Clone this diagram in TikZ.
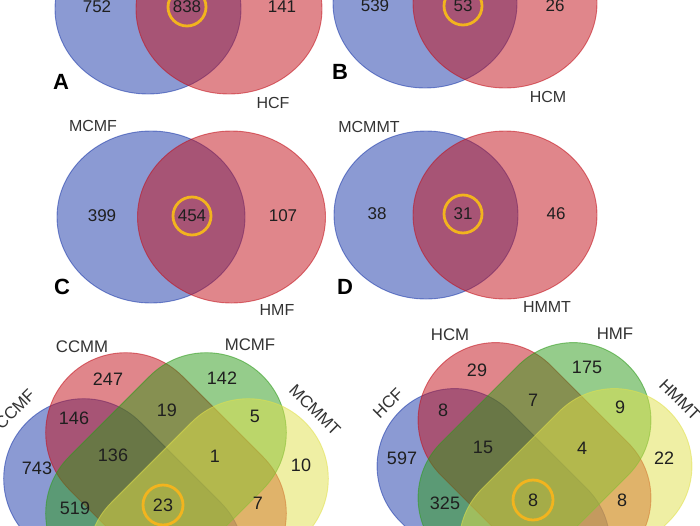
\documentclass[tikz,border=0pt]{standalone}
\usepackage{fontspec}
\setmainfont{Liberation Sans}
\definecolor{vblue}{RGB}{25,55,169}
\definecolor{vred}{RGB}{195,15,25}
\definecolor{vgreen}{RGB}{45,155,25}
\definecolor{vyellow}{RGB}{225,225,75}
\definecolor{hl}{RGB}{242,180,30}
\tikzset{
  vset/.style={fill=#1, draw=#1, fill opacity=0.5, draw opacity=0.55, line width=0.45pt},
  num/.style={font=\fontsize{9}{10}\selectfont, text=black!88, inner sep=1pt},
  snum/.style={font=\fontsize{8.5}{10}\selectfont, text=black!88, inner sep=1pt},
  lab/.style={font=\fontsize{8}{9}\selectfont, text=black!80, inner sep=1pt},
  qlab/.style={font=\fontsize{8.4}{9}\selectfont, text=black!80, inner sep=0pt},
  panel/.style={font=\fontsize{11}{12}\selectfont\bfseries, inner sep=1pt},
  hlc/.style={draw=hl, line width=1.4pt}
}
\begin{document}
\begin{tikzpicture}[x=0.5pt, y=-0.5pt]
\useasboundingbox (0,0) rectangle (700,525);
\clip (0,0) rectangle (700,525);
\fill[white] (0,0) rectangle (700,525);

% ---------- Panel A ----------
\path[vset=vblue] (148,9) ellipse[x radius=93, y radius=85];
\path[vset=vred] (229,9) ellipse[x radius=93, y radius=85];
\node[snum] (a1) at (97,7) {752};
\node[snum] (a2) at (187,7) {838};
\node[snum] (a3) at (282,7) {141};
\draw[hlc] (a2) circle[radius=19];
\node[panel] (pa) at (61,82) {A};
\node[lab] (la) at (273,103) {HCF};

% ---------- Panel B ----------
\path[vset=vblue] (425,3) ellipse[x radius=92, y radius=85];
\path[vset=vred] (505,3) ellipse[x radius=92, y radius=85];
\node[snum] (b1) at (375,6) {539};
\node[snum] (b2) at (463,6) {53};
\node[snum] (b3) at (555,6) {26};
\draw[hlc] (b2) circle[radius=19];
\node[panel] (pb) at (340,72) {B};
\node[lab] (lb) at (548,97) {HCM};

% ---------- Panel C ----------
\path[vset=vblue] (151,217) ellipse[x radius=94, y radius=86];
\path[vset=vred] (231.5,217) ellipse[x radius=94, y radius=86];
\node[snum] (c1) at (102,216) {399};
\node[snum] (c2) at (192,216) {454};
\node[snum] (c3) at (283,216) {107};
\draw[hlc] (c2) circle[radius=19];
\node[panel] (pc) at (62,287) {C};
\node[lab] (lc1) at (93,126) {MCMF};
\node[lab] (lc2) at (277,310) {HMF};

% ---------- Panel D ----------
\path[vset=vblue] (426,215) ellipse[x radius=92, y radius=84];
\path[vset=vred] (505,215) ellipse[x radius=92, y radius=84];
\node[snum] (d1) at (377,214) {38};
\node[snum] (d2) at (463,214) {31};
\node[snum] (d3) at (556,214) {46};
\draw[hlc] (d2) circle[radius=19];
\node[panel] (pd) at (345,287) {D};
\node[lab] (ld1) at (369,127) {MCMMT};
\node[lab] (ld2) at (547,307) {HMMT};

% ---------- Bottom left four-set ----------
\begin{scope}[shift={(124,519)}, rotate=-45]
  \path[vset=vblue, rounded corners=40pt] (-137,-80) rectangle (137,80);
\end{scope}
\begin{scope}[shift={(166,473)}, rotate=-45]
  \path[vset=vred, rounded corners=40pt] (-137,-80) rectangle (137,80);
\end{scope}
\begin{scope}[shift={(166,473)}, rotate=45]
  \path[vset=vgreen, rounded corners=40pt] (-137,-80) rectangle (137,80);
\end{scope}
\begin{scope}[shift={(208,519)}, rotate=45]
  \path[vset=vyellow, rounded corners=40pt] (-137,-80) rectangle (137,80);
\end{scope}
\node[qlab, rotate=45] (le1) at (15,409) {CCMF};
\node[qlab] (le2) at (82,347) {CCMM};
\node[qlab] (le3) at (250,345) {MCMF};
\node[qlab, rotate=-45] (le4) at (315,410) {MCMMT};
\node[num] (e1) at (37,468) {743};
\node[num] (e2) at (108,379) {247};
\node[num] (e3) at (222,378) {142};
\node[num] (e4) at (301,465) {10};
\node[num] (e5) at (74,418) {146};
\node[num] (e6) at (167,410) {19};
\node[num] (e7) at (255,416) {5};
\node[num] (e8) at (113,455) {136};
\node[num] (e9) at (215,456) {1};
\node[num] (e10) at (75,508) {519};
\node[num] (e11) at (163,505) {23};
\node[num] (e12) at (258,503) {7};
\draw[hlc] (e11) circle[radius=20];

% ---------- Bottom right four-set ----------
\begin{scope}[shift={(493.5,505)}, rotate=-45]
  \path[vset=vblue, rounded corners=38.8pt] (-132.5,-77.6) rectangle (132.5,77.6);
\end{scope}
\begin{scope}[shift={(534.5,459)}, rotate=-45]
  \path[vset=vred, rounded corners=38.8pt] (-132.5,-77.6) rectangle (132.5,77.6);
\end{scope}
\begin{scope}[shift={(534.5,459)}, rotate=45]
  \path[vset=vgreen, rounded corners=38.8pt] (-132.5,-77.6) rectangle (132.5,77.6);
\end{scope}
\begin{scope}[shift={(575.5,505)}, rotate=45]
  \path[vset=vyellow, rounded corners=38.8pt] (-132.5,-77.6) rectangle (132.5,77.6);
\end{scope}
\node[qlab, rotate=45] (lf1) at (388,403) {HCF};
\node[qlab] (lf2) at (450,335) {HCM};
\node[qlab] (lf3) at (615,334) {HMF};
\node[qlab, rotate=-45] (lf4) at (680,400) {HMMT};
\node[num] (f1) at (402,458) {597};
\node[num] (f2) at (477,370) {29};
\node[num] (f3) at (587,367) {175};
\node[num] (f4) at (664,458) {22};
\node[num] (f5) at (443,410) {8};
\node[num] (f6) at (533,400) {7};
\node[num] (f7) at (620,407) {9};
\node[num] (f8) at (483,447) {15};
\node[num] (f9) at (582,448) {4};
\node[num] (f10) at (445,503) {325};
\node[num] (f11) at (533,500) {8};
\node[num] (f12) at (622,500) {8};
\draw[hlc] (f11) circle[radius=20];
\end{tikzpicture}
\end{document}
